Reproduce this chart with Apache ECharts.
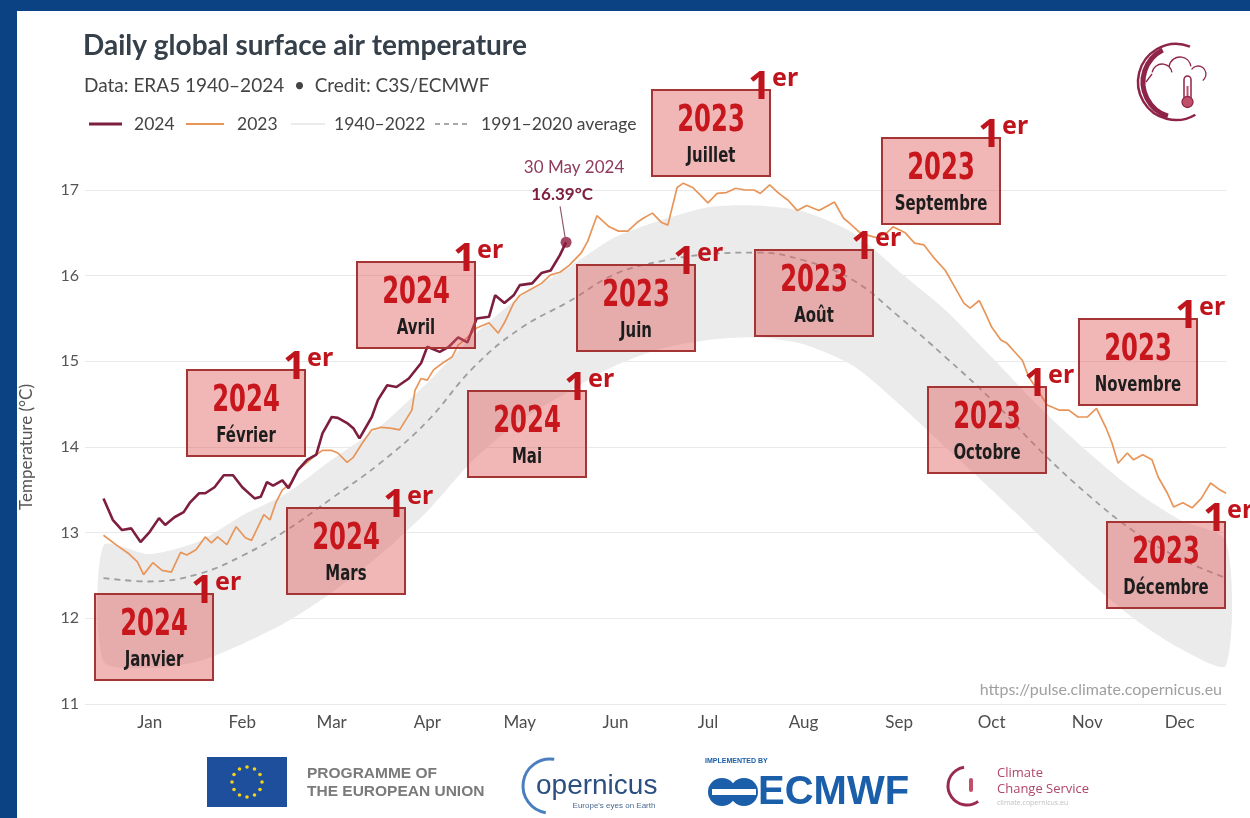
<!DOCTYPE html>
<html>
<head>
<meta charset="utf-8">
<script src="https://cdn.jsdelivr.net/npm/echarts@6/dist/echarts.min.js"></script>
<style>
html,body{margin:0;padding:0;width:1250px;height:818px;overflow:hidden;background:#0a4283;}
#card{position:absolute;left:17px;top:11px;width:1233px;height:807px;background:#ffffff;}
#chart{position:absolute;left:0;top:0;width:1250px;height:818px;}
</style>
</head>
<body>
<div id="card"></div>
<div id="chart"></div>
<script>
// ---------- DATA ----------
const monthLabels = ['Jan','Feb','Mar','Apr','May','Jun','Jul','Aug','Sep','Oct','Nov','Dec'];
const monthMid = [15,45,74,105,135,166,196,227,258,288,319,349];
const yTicksMin = 11, yTicksMax = 17;

const days2024 = [0,3,6,9,12,15,18,20,23,26,28,31,33,36,39,42,45,49,51,53,55,58,60,63,66,69,71,74,76,79,81,83,87,89,92,95,99,103,105,109,112,115,118,121,125,127,130,133,135,139,142,145,148,150];
const temp2024 = [13.40,13.15,13.03,13.05,12.89,13.01,13.17,13.09,13.18,13.24,13.35,13.46,13.46,13.53,13.67,13.67,13.53,13.40,13.42,13.59,13.55,13.61,13.52,13.73,13.85,13.91,14.16,14.35,14.34,14.28,14.22,14.10,14.35,14.55,14.72,14.70,14.80,14.98,15.17,15.11,15.17,15.28,15.22,15.50,15.52,15.77,15.68,15.77,15.89,15.91,16.03,16.06,16.24,16.39];

const days2023 = [0,4,8,11,13,16,19,22,25,27,30,33,35,37,40,43,46,48,52,54,56,58,61,63,66,69,71,74,76,79,81,84,87,90,93,96,100,101,103,105,107,110,113,115,118,121,125,128,130,133,135,139,142,145,148,151,155,157,160,164,167,170,173,175,178,181,183,186,188,191,193,196,199,202,205,208,211,213,216,219,222,225,228,232,235,237,240,242,245,248,251,254,256,260,263,266,269,273,276,279,281,284,286,288,291,293,295,298,300,303,306,310,313,316,319,322,325,327,329,332,334,337,340,342,345,347,350,353,356,359,362,364];
const temp2023 = [12.97,12.86,12.76,12.66,12.51,12.65,12.56,12.54,12.77,12.74,12.80,12.95,12.88,12.95,12.86,13.07,12.94,12.91,13.21,13.15,13.36,13.50,13.58,13.73,13.82,13.91,13.96,13.96,13.93,13.82,13.88,14.05,14.20,14.23,14.22,14.20,14.43,14.66,14.80,14.78,14.90,14.98,15.05,15.19,15.28,15.39,15.45,15.33,15.45,15.68,15.77,15.85,15.91,16.01,16.04,16.12,16.27,16.40,16.70,16.57,16.52,16.52,16.62,16.67,16.73,16.62,16.59,17.03,17.08,17.03,16.96,16.85,16.96,16.97,17.02,17.00,17.00,16.96,17.06,16.96,16.88,16.76,16.82,16.76,16.82,16.86,16.67,16.61,16.51,16.47,16.44,16.50,16.57,16.50,16.38,16.36,16.22,16.06,15.87,15.68,15.62,15.71,15.56,15.40,15.25,15.21,15.13,15.01,14.82,14.66,14.49,14.43,14.43,14.35,14.35,14.45,14.23,14.05,13.81,13.93,13.85,13.91,13.85,13.65,13.46,13.30,13.35,13.29,13.40,13.58,13.50,13.46];

const bandDays = [0,15,31,45,59,74,90,105,120,135,151,166,181,196,212,227,243,258,273,288,304,319,334,349,364];
const avg9120  = [12.47,12.43,12.52,12.73,13.02,13.40,13.82,14.30,14.93,15.38,15.70,16.02,16.17,16.25,16.27,16.18,15.95,15.52,15.05,14.55,13.95,13.45,13.02,12.70,12.47];
const upper4022 = [12.85,12.75,12.90,13.20,13.45,13.85,14.25,14.75,15.30,15.75,16.10,16.45,16.65,16.80,16.82,16.75,16.50,16.05,15.60,15.05,14.45,13.95,13.50,13.15,12.90];
const lower4022 = [11.50,11.42,11.50,11.70,11.95,12.30,12.75,13.25,13.85,14.30,14.65,14.95,15.15,15.25,15.28,15.20,14.95,14.50,14.00,13.50,12.95,12.45,12.00,11.65,11.45];

const boxYears  = ['2024','2024','2024','2024','2024','2023','2023','2023','2023','2023','2023','2023'];
const boxMonths = ['Janvier','Février','Mars','Avril','Mai','Juin','Juillet','Août','Septembre','Octobre','Novembre','Décembre'];
const peakLabelDate = '30 May 2024';

// ---------- LAYOUT (pixel positions of overlay boxes) ----------
const boxLayout = [[95,594],[187,370],[287,508],[357,262],[468,391],[577,265],[652,90],[755,250],[882,138],[928,387],[1079,319],[1107,522]];

const chart = echarts.init(document.getElementById('chart'), null, {renderer:'canvas'});
const F = 'Lato, "Open Sans", sans-serif';

function bandRender(params, api){
  const pts = [];
  for (let i=0;i<bandDays.length;i++) pts.push(api.coord([bandDays[i], upper4022[i]]));
  for (let i=bandDays.length-1;i>=0;i--) pts.push(api.coord([bandDays[i], lower4022[i]]));
  return {type:'polygon', shape:{points:pts, smooth:0.25}, style:{fill:'#ebebeb'}};
}

const option = {
  animation:false,
  backgroundColor:'transparent',
  grid:{left:85,right:24,top:190,bottom:114},
  xAxis:{
    type:'value', min:-6, max:364,
    axisLine:{show:false}, axisTick:{show:false}, splitLine:{show:false},
    axisLabel:{customValues:monthMid, formatter:v=>monthLabels[monthMid.indexOf(v)]||'', color:'#4d4d4d', fontSize:17, margin:10, fontFamily:F}
  },
  yAxis:{
    type:'value', min:yTicksMin, max:yTicksMax, interval:1,
    axisLine:{show:false}, axisTick:{show:false},
    axisLabel:{color:'#555', fontSize:16, margin:6, fontFamily:F},
    splitLine:{lineStyle:{color:'#e9e9e9', width:1}},
    name:'Temperature (°C)', nameLocation:'middle', nameGap:50,
    nameTextStyle:{color:'#555', fontSize:17, fontFamily:F}
  },
  series:[
    {type:'custom', renderItem:bandRender, data:[[bandDays[0], lower4022[0]]], silent:true, z:1, clip:false},
    {type:'line', data:bandDays.map((d,i)=>[d,avg9120[i]]), symbol:'none', smooth:0.4, lineStyle:{color:'#9e9e9e', width:1.8, type:[6,5]}, silent:true, z:2},
    {type:'line', data:days2023.map((d,i)=>[d,temp2023[i]]), symbol:'none', lineStyle:{color:'#e8955a', width:1.7}, silent:true, z:3, clip:false},
    {type:'line', data:days2024.map((d,i)=>[d,temp2024[i]]), symbol:'none', lineStyle:{color:'#7d1e3e', width:2.6}, silent:true, z:4},
    {type:'scatter', data:[[days2024[days2024.length-1], temp2024[temp2024.length-1]]], symbolSize:11, itemStyle:{color:'#8b1a3c'}, silent:true, z:5}
  ]
};
chart.setOption(option);

// ---------- GRAPHICS ----------
const g = [];
const Z = 20;
g.push({type:'text', z:Z, x:83, y:46, style:{text:'Daily global surface air temperature', font:'bold 28px '+F, fill:'#36404a', verticalAlign:'middle'}});
g.push({type:'text', z:Z, x:84, y:86, style:{text:'Data: ERA5 1940–2024  •  Credit: C3S/ECMWF', font:'19px '+F, fill:'#444', verticalAlign:'middle'}});
const ly = 124;
const LF = '17.5px '+F;
g.push({type:'line', z:Z, shape:{x1:89,y1:ly,x2:122,y2:ly}, style:{stroke:'#7d1e3e', lineWidth:3}});
g.push({type:'text', z:Z, x:134, y:ly, style:{text:'2024', font:LF, fill:'#444', verticalAlign:'middle'}});
g.push({type:'line', z:Z, shape:{x1:186,y1:ly,x2:224,y2:ly}, style:{stroke:'#e8955a', lineWidth:2}});
g.push({type:'text', z:Z, x:237, y:ly, style:{text:'2023', font:LF, fill:'#444', verticalAlign:'middle'}});
g.push({type:'line', z:Z, shape:{x1:291,y1:ly,x2:325,y2:ly}, style:{stroke:'#e4e4e4', lineWidth:1.5}});
g.push({type:'text', z:Z, x:334, y:ly, style:{text:'1940–2022', font:LF, fill:'#444', verticalAlign:'middle'}});
g.push({type:'line', z:Z, shape:{x1:435,y1:ly,x2:467,y2:ly}, style:{stroke:'#a8a8a8', lineWidth:1.8, lineDash:[5,4]}});
g.push({type:'text', z:Z, x:481, y:ly, style:{text:'1991–2020 average', font:LF, fill:'#444', verticalAlign:'middle'}});
g.push({type:'text', z:Z, x:1222, y:690, style:{text:'https://pulse.climate.copernicus.eu', font:'16px '+F, fill:'#a0a0a0', align:'right', verticalAlign:'middle'}});

const p = chart.convertToPixel({gridIndex:0}, [days2024[days2024.length-1], temp2024[temp2024.length-1]]);
g.push({type:'text', z:Z, x:p[0]+8, y:p[1]-75, style:{text:peakLabelDate, font:'17px '+F, fill:'#8f3a5c', align:'center', verticalAlign:'middle'}});
g.push({type:'text', z:Z, x:p[0]-4, y:p[1]-48, style:{text:temp2024[temp2024.length-1].toFixed(2)+'°C', font:'bold 17px '+F, fill:'#7d1e3e', align:'center', verticalAlign:'middle'}});
g.push({type:'line', z:Z, shape:{x1:p[0]-6,y1:p[1]-36,x2:p[0]-1,y2:p[1]-5}, style:{stroke:'#8f5a6c', lineWidth:1.2}});

const BW = 118, BH = 86;
boxLayout.forEach((b,i)=>{
  const bx=b[0], by=b[1];
  g.push({type:'rect', z:30, shape:{x:bx,y:by,width:BW,height:BH}, style:{fill:'rgba(224,96,96,0.45)', stroke:'#a53434', lineWidth:2}});
  g.push({type:'text', z:31, x:bx+BW/2, y:by+31, scaleX:0.64, style:{text:boxYears[i], font:'bold 38px "DejaVu Sans"', fill:'#c8161d', align:'center', verticalAlign:'middle'}});
  g.push({type:'text', z:31, x:bx+BW/2, y:by+66, scaleX:0.68, style:{text:boxMonths[i], font:'bold 22px "DejaVu Sans"', fill:'#1d1d1d', align:'center', verticalAlign:'middle'}});
  g.push({type:'text', z:32, x:bx+BW+1, y:by-2, style:{text:'1', font:'bold 40px "Noto Sans"', fill:'#c0141c', align:'right', verticalAlign:'middle'}});
  g.push({type:'text', z:32, x:bx+BW+2, y:by-11, style:{text:'er', font:'bold 25px "Noto Sans"', fill:'#c0141c', align:'left', verticalAlign:'middle'}});
});

// top-right C3S logo (approximation)
const M = '#8e2548';
g.push({type:'arc', z:Z, shape:{cx:1176,cy:82,r:38,startAngle:Math.PI*0.33,endAngle:Math.PI*1.62,clockwise:true}, style:{stroke:M, lineWidth:2.5, fill:null}});
g.push({type:'arc', z:Z, shape:{cx:1179,cy:82,r:36,startAngle:Math.PI*0.6,endAngle:Math.PI*1.35,clockwise:true}, style:{stroke:M, lineWidth:5, fill:null}});
g.push({type:'arc', z:Z, shape:{cx:1162,cy:74,r:10,startAngle:Math.PI*1.05,endAngle:Math.PI*1.95,clockwise:true}, style:{stroke:M, lineWidth:1.3, fill:null}});
g.push({type:'arc', z:Z, shape:{cx:1180,cy:68,r:11,startAngle:Math.PI*1.05,endAngle:Math.PI*1.95,clockwise:true}, style:{stroke:M, lineWidth:1.3, fill:null}});
g.push({type:'arc', z:Z, shape:{cx:1198,cy:74,r:8,startAngle:Math.PI*1.2,endAngle:Math.PI*2.3,clockwise:true}, style:{stroke:M, lineWidth:1.3, fill:null}});
g.push({type:'line', z:Z, shape:{x1:1146,y1:82,x2:1152,y2:74}, style:{stroke:M, lineWidth:1.3}});
g.push({type:'rect', z:Z, shape:{x:1184,y:76,width:7,height:24,r:3.5}, style:{stroke:M, lineWidth:1.5, fill:'#fff'}});
g.push({type:'rect', z:Z, shape:{x:1186.5,y:86,width:2,height:12}, style:{fill:'#c0506a'}});
g.push({type:'circle', z:Z, shape:{cx:1187.5,cy:102,r:5.5}, style:{fill:'#c0506a', stroke:M, lineWidth:1.3}});

// bottom logos (approximation)
g.push({type:'rect', z:Z, shape:{x:207,y:757,width:80,height:50}, style:{fill:'#1d4f9c'}});
for(let k=0;k<12;k++){
  const a=k*Math.PI/6;
  g.push({type:'circle', z:Z, shape:{cx:247+15*Math.cos(a), cy:782+15*Math.sin(a), r:1.8}, style:{fill:'#f5d31a'}});
}
g.push({type:'text', z:Z, x:307, y:774, style:{text:'PROGRAMME OF', font:'bold 15.5px "Liberation Sans"', fill:'#7a7a7a', verticalAlign:'middle'}});
g.push({type:'text', z:Z, x:307, y:792, style:{text:'THE EUROPEAN UNION', font:'bold 15.5px "Liberation Sans"', fill:'#7a7a7a', verticalAlign:'middle'}});
g.push({type:'arc', z:Z, shape:{cx:550,cy:786,r:27,startAngle:Math.PI*0.55,endAngle:Math.PI*1.55,clockwise:true}, style:{stroke:'#4a7fbf', lineWidth:3, fill:null}});
g.push({type:'text', z:Z, x:536, y:786, style:{text:'opernicus', font:'28px "Liberation Sans Narrow","Liberation Sans"', fill:'#2d4f80', verticalAlign:'middle'}});
g.push({type:'text', z:Z, x:614, y:806, style:{text:"Europe's eyes on Earth", font:'8px "Liberation Sans"', fill:'#4a6a90', align:'center', verticalAlign:'middle'}});
g.push({type:'text', z:Z, x:705, y:761, style:{text:'IMPLEMENTED BY', font:'bold 7px "Liberation Sans"', fill:'#1b5faa', verticalAlign:'middle'}});
g.push({type:'circle', z:Z, shape:{cx:722,cy:792,r:14}, style:{fill:'#1b5faa'}});
g.push({type:'circle', z:Z, shape:{cx:744,cy:792,r:14}, style:{fill:'#1b5faa'}});
g.push({type:'rect', z:Z, shape:{x:712,y:789,width:44,height:6}, style:{fill:'#fff'}});
g.push({type:'text', z:Z, x:758, y:793, style:{text:'ECMWF', font:'bold 40px "Liberation Sans"', fill:'#1b5faa', verticalAlign:'middle'}});
g.push({type:'arc', z:Z, shape:{cx:967,cy:786,r:19,startAngle:Math.PI*0.3,endAngle:Math.PI*1.45,clockwise:true}, style:{stroke:'#9a2a50', lineWidth:3, fill:null}});
g.push({type:'rect', z:Z, shape:{x:969,y:778,width:4,height:14,r:2}, style:{fill:'#c0506a'}});
g.push({type:'text', z:Z, x:997, y:773, style:{text:'Climate', font:'13px "Open Sans"', fill:'#b0476c', verticalAlign:'middle'}});
g.push({type:'text', z:Z, x:997, y:789, style:{text:'Change Service', font:'13px "Open Sans"', fill:'#b0476c', verticalAlign:'middle'}});
g.push({type:'text', z:Z, x:997, y:803, style:{text:'climate.copernicus.eu', font:'7px "Open Sans"', fill:'#c0c0c0', verticalAlign:'middle'}});

chart.setOption({graphic:g});
</script>
</body>
</html>
